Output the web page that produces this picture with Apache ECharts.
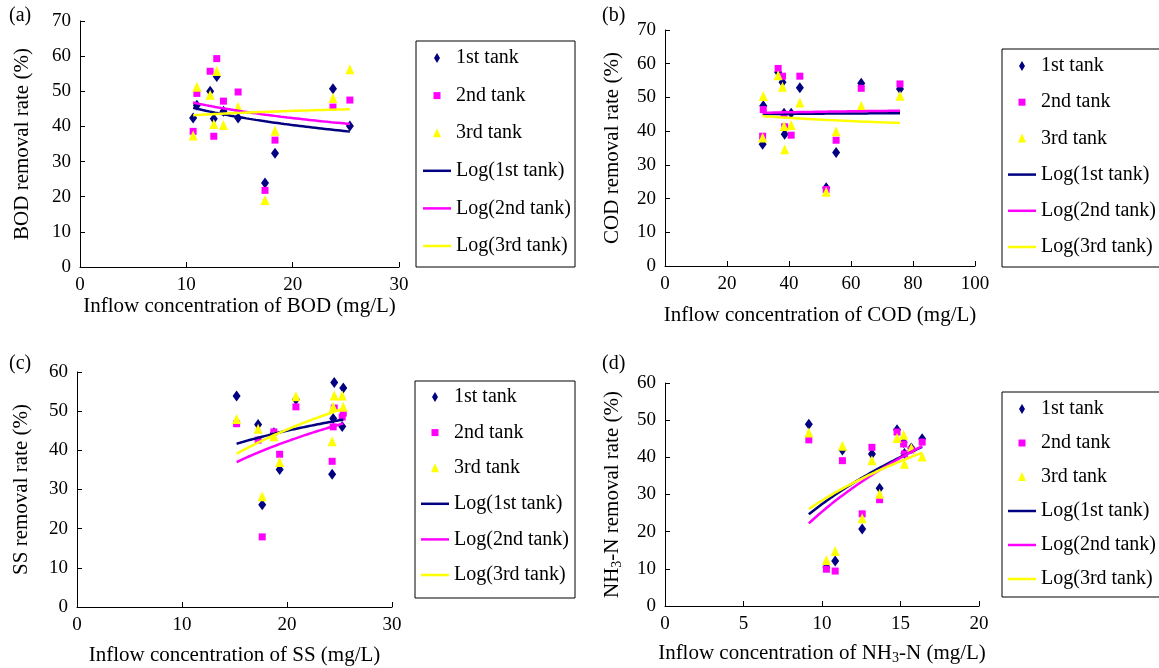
<!DOCTYPE html>
<html><head><meta charset="utf-8">
<script src="https://cdn.jsdelivr.net/npm/echarts@6/dist/echarts.min.js"></script>
<style>html,body{margin:0;padding:0;background:#fff}#c{width:1159px;height:668px}</style>
</head><body><div id="c"></div>
<script>
// ---------------- data ----------------
const tankNames = ['1st tank', '2nd tank', '3rd tank'];
const trendNames = ['Log(1st tank)', 'Log(2nd tank)', 'Log(3rd tank)'];

// (a) BOD
const bodX = [10.64, 10.99, 12.24, 12.58, 12.86, 13.49, 14.87, 17.40, 18.34, 23.79, 25.38];
const bod1 = [42.4, 46.0, 50.0, 42.2, 54.2, 44.3, 42.4, 23.9, 32.4, 50.7, 40.1];
const bod2 = [38.6, 49.4, 55.7, 37.2, 59.3, 47.2, 49.8, 21.8, 36.1, 45.5, 47.5];
const bod3 = [37.4, 51.3, 49.0, 40.7, 55.8, 40.4, 45.5, 19.1, 38.8, 48.1, 56.3];

// (b) COD
const codX = [31.5, 31.7, 36.5, 37.9, 38.4, 38.6, 40.7, 43.5, 52.0, 55.2, 63.3, 75.8];
const cod1 = [36.1, 47.5, 57.5, 54.5, 45.3, 39.1, 45.3, 52.9, 23.2, 33.7, 54.2, 52.5];
const cod2 = [38.5, 46.4, 58.6, 56.3, 45.0, 41.3, 38.8, 56.3, 22.7, 37.3, 52.7, 54.0];
const cod3 = [38.1, 50.4, 56.6, 53.2, 41.5, 34.6, 41.8, 48.5, 22.0, 40.0, 47.5, 50.5];

// (c) SS
const ssX = [15.2, 17.25, 17.64, 18.75, 19.3, 20.85, 24.3, 24.4, 24.5, 25.26, 25.36];
const ss1 = [53.9, 46.6, 26.1, 44.5, 35.1, 53.0, 33.9, 48.1, 57.3, 46.1, 55.9];
const ss2 = [46.8, 42.6, 17.9, 44.7, 39.0, 51.1, 37.2, 46.0, 50.8, 48.5, 49.5];
const ss3 = [48.0, 45.5, 28.3, 43.6, 37.0, 53.8, 42.3, 51.1, 54.0, 54.0, 51.1];

// (d) NH3-N
const nhX = [9.16, 10.28, 10.84, 11.3, 12.56, 13.18, 13.67, 14.78, 15.2, 15.25, 15.69, 16.38];
const nh1 = [48.9, 10.5, 12.1, 42.0, 20.7, 40.9, 31.7, 47.4, 44.0, 41.0, 42.5, 45.0];
const nh2 = [44.7, 9.9, 9.4, 39.1, 24.8, 42.7, 28.6, 46.8, 43.6, 40.9, 42.0, 44.1];
const nh3 = [46.7, 12.4, 14.8, 43.1, 23.6, 39.2, 30.2, 45.2, 46.1, 38.3, 42.5, 40.2];

// axis ticks
const yTicksA = {min: 0, max: 70, interval: 10};
const xTicksA = {min: 0, max: 30, interval: 10};
const yTicksB = {min: 0, max: 70, interval: 10};
const xTicksB = {min: 0, max: 100, interval: 20};
const yTicksC = {min: 0, max: 60, interval: 10};
const xTicksC = {min: 0, max: 30, interval: 10};
const yTicksD = {min: 0, max: 60, interval: 10};
const xTicksD = {min: 0, max: 20, interval: 5};

// ---------------- styles / layout ----------------
const FONT = '"Liberation Serif", "Times New Roman", serif';
const colors = ['#000080', '#ff00ff', '#ffff00'];
const symbols = ['diamond', 'rect', 'triangle'];
const symbolSizes = [[8, 11], [7, 7], [9, 10]];
const legendIcons = [
  'path://M-7,-7M7,7M0,-5L3,0L0,5L-3,0Z',
  'path://M-7,-7M7,7M-3.5,-3.5L3.5,-3.5L3.5,3.5L-3.5,3.5Z',
  'path://M-7,-7M7,7M0,-5L4,4L-4,4Z'
];
const lineIcon = 'path://M-14,-1.25L14,-1.25L14,1.25L-14,1.25Z';

function pts(xs, ys) { return xs.map((x, i) => [x, ys[i]]); }
function logTrend(xs, ys) {
  const n = xs.length;
  let sx = 0, sy = 0, sxx = 0, sxy = 0;
  for (let i = 0; i < n; i++) {
    const l = Math.log(xs[i]);
    sx += l; sy += ys[i]; sxx += l * l; sxy += l * ys[i];
  }
  const b = (n * sxy - sx * sy) / (n * sxx - sx * sx);
  const a = (sy - b * sx) / n;
  const lo = Math.min(...xs), hi = Math.max(...xs);
  const out = [];
  for (let i = 0; i <= 50; i++) {
    const x = lo + (hi - lo) * i / 50;
    out.push([x, a + b * Math.log(x)]);
  }
  return out;
}

const panels = [
  {x: bodX, ys: [bod1, bod2, bod3], xt: xTicksA, yt: yTicksA,
   grid: {left: 80, top: 21, width: 319, height: 246},
   xName: '{n|Inflow concentration of BOD (mg/L)}', xGap: 23,
   yName: '{n|BOD removal rate (%)}', yGap: 46,
   legend: {left: 423, top: 47, gap: 15.6}, box: [416, 41, 159, 226],
   tag: '(a)', tagPos: [9, 6]},
  {x: codX, ys: [cod1, cod2, cod3], xt: xTicksB, yt: yTicksB,
   grid: {left: 665, top: 30, width: 310, height: 236},
   xName: '{n|Inflow concentration of COD (mg/L)}', xGap: 37,
   yName: '{n|COD removal rate (%)}', yGap: 41,
   legend: {left: 1008, top: 55, gap: 14.2}, box: [1002, 49, 170, 218],
   tag: '(b)', tagPos: [602, 6]},
  {x: ssX, ys: [ss1, ss2, ss3], xt: xTicksC, yt: yTicksC,
   grid: {left: 77, top: 372, width: 315, height: 235},
   xName: '{n|Inflow concentration of SS (mg/L)}', xGap: 36,
   yName: '{n|SS removal rate (%)}', yGap: 44,
   legend: {left: 421, top: 386, gap: 13.6}, box: [415, 381, 160, 217],
   tag: '(c)', tagPos: [9, 354]},
  {x: nhX, ys: [nh1, nh2, nh3], xt: xTicksD, yt: yTicksD,
   grid: {left: 665, top: 383, width: 314, height: 223},
   xName: '{n|Inflow concentration of NH}{s|3}{n|-N (mg/L)}', xGap: 35,
   yName: '{n|NH}{s|3}{n|-N removal rate (%)}', yGap: 41,
   legend: {left: 1008, top: 398, gap: 12}, box: [1002, 392, 170, 205],
   tag: '(d)', tagPos: [602, 354]}
];

const rich = {
  n: {fontFamily: FONT, fontSize: 21, color: '#000', lineHeight: 24},
  s: {fontFamily: FONT, fontSize: 14, color: '#000', lineHeight: 13, verticalAlign: 'bottom'}
};

const option = {
  backgroundColor: '#fff',
  animation: false,
  grid: [], xAxis: [], yAxis: [], series: [], legend: [], graphic: []
};

panels.forEach((p, k) => {
  option.grid.push(Object.assign({containLabel: false}, p.grid));
  const axisCommon = {
    axisLine: {show: true, onZero: false, lineStyle: {color: '#000', width: 1}},
    axisTick: {show: true, inside: true, length: 5, lineStyle: {color: '#000'}},
    splitLine: {show: false},
    axisLabel: {fontFamily: FONT, fontSize: 19, color: '#000', margin: 9},
    nameTextStyle: {fontFamily: FONT, fontSize: 21, color: '#000', rich: rich},
    nameLocation: 'middle'
  };
  option.xAxis.push(Object.assign({}, axisCommon, {
    type: 'value', gridIndex: k, min: p.xt.min, max: p.xt.max, interval: p.xt.interval,
    name: p.xName, nameGap: p.xGap
  }));
  option.yAxis.push(Object.assign({}, axisCommon, {
    type: 'value', gridIndex: k, min: p.yt.min, max: p.yt.max, interval: p.yt.interval,
    name: p.yName, nameGap: p.yGap
  }));
  p.ys.forEach((ys, s) => {
    option.series.push({
      type: 'scatter', name: tankNames[s], xAxisIndex: k, yAxisIndex: k,
      data: pts(p.x, ys), symbol: symbols[s], symbolSize: symbolSizes[s],
      itemStyle: {color: colors[s], opacity: 1}, z: 2
    });
  });
  p.ys.forEach((ys, s) => {
    option.series.push({
      type: 'line', name: trendNames[s], xAxisIndex: k, yAxisIndex: k,
      data: logTrend(p.x, ys), symbol: 'none', showSymbol: false, smooth: false,
      lineStyle: {color: colors[s], width: 2.5}, itemStyle: {color: colors[s]}, z: 3
    });
  });
  option.legend.push({
    orient: 'vertical', left: p.legend.left, top: p.legend.top, padding: 0,
    itemGap: p.legend.gap, itemWidth: 28, itemHeight: 14, symbolKeepAspect: true,
    selectedMode: false,
    textStyle: {fontFamily: FONT, fontSize: 20, color: '#000', lineHeight: 22},
    data: [
      {name: tankNames[0], icon: legendIcons[0]},
      {name: tankNames[1], icon: legendIcons[1]},
      {name: tankNames[2], icon: legendIcons[2]},
      {name: trendNames[0], icon: lineIcon},
      {name: trendNames[1], icon: lineIcon},
      {name: trendNames[2], icon: lineIcon}
    ]
  });
  option.graphic.push({
    type: 'rect', shape: {x: p.box[0], y: p.box[1], width: p.box[2], height: p.box[3]},
    style: {fill: 'none', stroke: '#000', lineWidth: 1}, silent: true
  });
  option.graphic.push({
    type: 'text', left: p.tagPos[0], top: p.tagPos[1],
    style: {text: p.tag, font: '20px ' + FONT, fill: '#000'}
  });
});

const chart = echarts.init(document.getElementById('c'), null, {renderer: 'canvas'});
chart.setOption(option);
</script>
</body></html>
